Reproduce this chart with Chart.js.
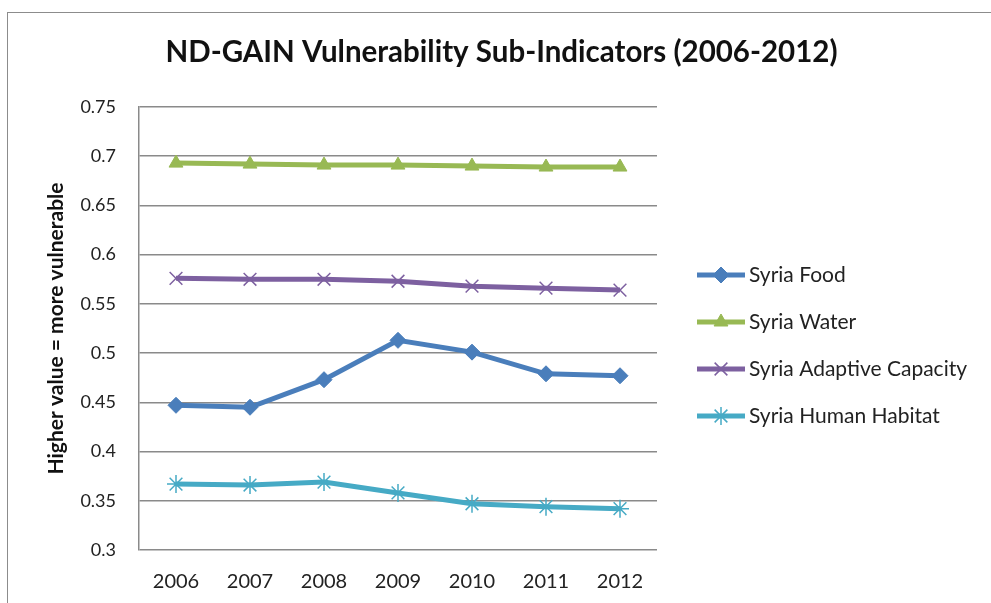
<!DOCTYPE html>
<html>
<head>
<meta charset="utf-8">
<script src="https://cdn.jsdelivr.net/npm/chart.js@4/dist/chart.umd.min.js"></script>
<style>
  html, body { margin: 0; padding: 0; background: #fff; overflow: hidden; }
  #wrap { position: relative; width: 991px; height: 603px; }
</style>
</head>
<body>
<div id="wrap"><canvas id="chart" width="991" height="603"></canvas></div>
<script>
const years = ["2006", "2007", "2008", "2009", "2010", "2011", "2012"];
const foodValues = [0.447, 0.445, 0.473, 0.513, 0.501, 0.479, 0.477];
const waterValues = [0.693, 0.692, 0.691, 0.691, 0.690, 0.689, 0.689];
const adaptiveValues = [0.576, 0.575, 0.575, 0.573, 0.568, 0.566, 0.564];
const habitatValues = [0.367, 0.366, 0.369, 0.358, 0.347, 0.344, 0.342];

const chartTitle = "ND-GAIN Vulnerability Sub-Indicators (2006-2012)";
const FONT = "Lato, 'Open Sans', sans-serif";

// white background, frame round the whole chart, and the title centred on the page
const framePlugin = {
  id: "frame",
  beforeDraw(chart) {
    const ctx = chart.ctx;
    ctx.save();
    ctx.fillStyle = "#fff";
    ctx.fillRect(0, 0, chart.width, chart.height);
    ctx.strokeStyle = "#8c8c8c";
    ctx.lineWidth = 1;
    ctx.strokeRect(7.5, 12.5, 1100, 700);
    ctx.fillStyle = "#111";
    ctx.font = "bold 29.5px " + FONT;
    ctx.textAlign = "center";
    ctx.textBaseline = "alphabetic";
    ctx.fillText(chartTitle, chart.width / 2 + 6, 62);
    ctx.restore();
  },
};

// legend in the excel style: line with a marker in the middle
const lineLegend = {
  id: "lineLegend",
  afterDraw(chart) {
    const ctx = chart.ctx;
    const x0 = chart.chartArea.right + 40;
    ctx.save();
    chart.data.datasets.forEach((ds, i) => {
      const y = 275 + i * 47;
      ctx.strokeStyle = ds.borderColor;
      ctx.lineWidth = 5;
      ctx.beginPath();
      ctx.moveTo(x0, y);
      ctx.lineTo(x0 + 48, y);
      ctx.stroke();
      ctx.fillStyle = ds.pointBackgroundColor;
      ctx.strokeStyle = ds.pointBorderColor;
      ctx.lineWidth = ds.pointBorderWidth;
      Chart.helpers.drawPoint(ctx, { pointStyle: ds.pointStyle, radius: ds.pointRadius, borderWidth: ds.pointBorderWidth, rotation: 0 }, x0 + 24, y);
      ctx.fillStyle = "#222";
      ctx.font = "21px " + FONT;
      ctx.textBaseline = "middle";
      ctx.textAlign = "left";
      ctx.fillText(ds.label, x0 + 52, y);
    });
    ctx.restore();
  },
};

function series(label, data, color, style, radius, bw) {
  return {
    label,
    data,
    borderColor: color,
    backgroundColor: color,
    borderWidth: 5,
    pointStyle: style,
    pointRadius: radius,
    pointHoverRadius: radius,
    pointBackgroundColor: color,
    pointBorderColor: color,
    pointBorderWidth: bw,
    tension: 0,
  };
}

new Chart(document.getElementById("chart"), {
  type: "line",
  data: {
    labels: years,
    datasets: [
      series("Syria Food", foodValues, "#4A7EBB", "rectRot", 8, 1),
      series("Syria Water", waterValues, "#98B954", "triangle", 8, 1),
      series("Syria Adaptive Capacity", adaptiveValues, "#7D60A0", "crossRot", 9, 1.5),
      series("Syria Human Habitat", habitatValues, "#46AAC5", "star", 9, 1.5),
    ],
  },
  plugins: [framePlugin, lineLegend],
  options: {
    responsive: false,
    animation: false,
    layout: { padding: { top: 107, left: 0, right: 334, bottom: 0 } },
    plugins: {
      legend: { display: false },
      tooltip: { enabled: false },
      title: { display: false },
    },
    scales: {
      x: {
        offset: true,
        grid: { display: false, drawTicks: false },
        border: { display: false },
        ticks: { color: "#222", font: { family: FONT, size: 20 }, padding: 20 },
        afterFit(scale) { scale.height = 53; },
      },
      y: {
        min: 0.3,
        max: 0.75,
        ticks: {
          stepSize: 0.05,
          color: "#222",
          padding: 23,
          font: { family: FONT, size: 18 },
          callback: (v) => String(Math.round(v * 100) / 100),
        },
        grid: { color: "#8a8a8a", lineWidth: 1.5, drawTicks: false },
        border: { display: true, color: "#8a8a8a", width: 1.5 },
        title: {
          display: true,
          text: "Higher value = more vulnerable",
          color: "#111",
          font: { family: FONT, size: 21, weight: "bold", lineHeight: 1.2 },
          padding: { top: 44, bottom: 0 },
        },
        afterFit(scale) { scale.width = 139; },
      },
    },
  },
});
</script>
</body>
</html>
